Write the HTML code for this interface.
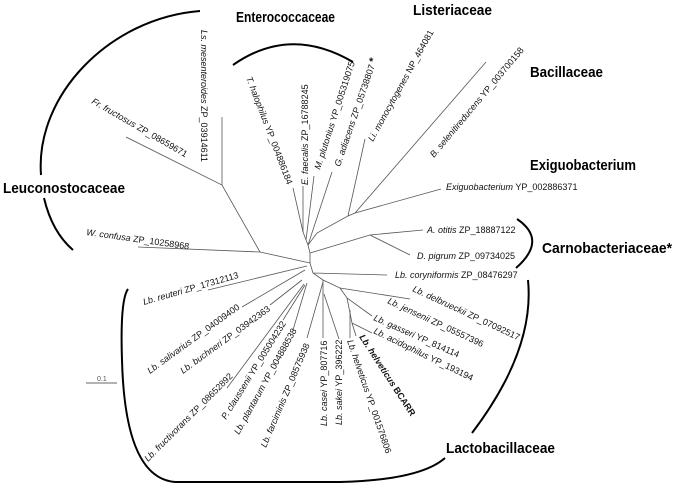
<!DOCTYPE html>
<html><head><meta charset="utf-8"><style>
body{margin:0;background:#fff}
svg{display:block}
.t{font-family:"Liberation Sans",sans-serif;font-size:9px;fill:#111}
.i{font-style:italic}
.g{font-family:"Liberation Sans",sans-serif;font-size:15px;font-weight:bold;fill:#000}
.l{stroke:#555;stroke-width:0.8;fill:none}
.a{stroke:#000;stroke-width:2;fill:none}
</style></head><body>
<svg width="674" height="487" viewBox="0 0 674 487" xmlns="http://www.w3.org/2000/svg">
<g class="l">
<polyline points="310,263 260,252 138,247"/>
<polyline points="260,252 222,185 126,137"/>
<line x1="222" y1="185" x2="222" y2="117"/>
<polyline points="310,263 310,253 308,245"/>
<polyline points="308,245 303,232 293,188"/>
<line x1="303" y1="232" x2="303" y2="186"/>
<line x1="306" y1="240" x2="314" y2="176"/>
<line x1="308" y1="245" x2="332" y2="172"/>
<polyline points="308,245 317,233 348,216 365,139"/>
<polyline points="348,216 355,213 486,62"/>
<line x1="355" y1="213" x2="441" y2="189"/>
<polyline points="310,253 370,235 423,230"/>
<line x1="370" y1="235" x2="410" y2="255"/>
<polyline points="310,263 313,273 387,275"/>
<polyline points="313,273 323,280 340,288 410,299"/>
<polyline points="340,288 347,298 372,316"/>
<polyline points="347,298 352,323 372,333"/>
<line x1="352" y1="323" x2="356" y2="336"/>
<line x1="350" y1="310" x2="350" y2="338"/>
<polyline points="323,280 323,293 323,338"/>
<line x1="324" y1="294" x2="339" y2="339"/>
<line x1="323" y1="282" x2="307" y2="338"/>
<line x1="307" y1="266" x2="208" y2="290"/>
<line x1="305" y1="270" x2="242" y2="307"/>
<line x1="302" y1="280" x2="270" y2="305"/>
<line x1="304" y1="284" x2="227" y2="388"/>
<line x1="305" y1="285" x2="283" y2="320"/>
<line x1="307" y1="283" x2="293" y2="330"/>
</g>
<line x1="86" y1="383" x2="117" y2="383" stroke="#666" stroke-width="1"/>
<text x="97" y="381" style="font-family:'Liberation Sans',sans-serif;font-size:7px;fill:#555">0.1</text>
<path class="a" d="M200,11 C110,18 35,95 41,175"/>
<path class="a" d="M44,198 Q52,232 73,250"/>
<path class="a" d="M233,65 Q290,25 353,62"/>
<path class="a" d="M517,219 Q548,240 516,268"/>
<path class="a" d="M528,280 Q535,350 472,433"/>
<path class="a" d="M128,289 Q120,300 122,360 Q125,478 175,482 L340,482 Q420,480 445,458"/>
<text class="g" x="236" y="22" textLength="99" lengthAdjust="spacingAndGlyphs">Enterococcaceae</text>
<text class="g" x="413" y="15" textLength="79" lengthAdjust="spacingAndGlyphs">Listeriaceae</text>
<text class="g" x="530" y="77" textLength="73" lengthAdjust="spacingAndGlyphs">Bacillaceae</text>
<text class="g" x="530" y="170" textLength="106" lengthAdjust="spacingAndGlyphs">Exiguobacterium</text>
<text class="g" x="542" y="253" textLength="130" lengthAdjust="spacingAndGlyphs">Carnobacteriaceae*</text>
<text class="g" x="3" y="193" textLength="122" lengthAdjust="spacingAndGlyphs">Leuconostocaceae</text>
<text class="g" x="446" y="453" textLength="109" lengthAdjust="spacingAndGlyphs">Lactobacillaceae</text>
<text class="t" transform="translate(201,30) rotate(90)"><tspan class="i">Ls. mesenteroides</tspan> ZP_03914611</text>
<text class="t" transform="translate(91,103) rotate(30)"><tspan class="i">Fr. fructosus</tspan> ZP_08659671</text>
<text class="t" transform="translate(246,78) rotate(69)"><tspan class="i">T. halophilus</tspan> YP_004886184</text>
<text class="t" transform="translate(308,185) rotate(-90)"><tspan class="i">E. faecalis</tspan> ZP_16788245</text>
<text class="t" transform="translate(320,170) rotate(-72)"><tspan class="i">M. plutonius</tspan> YP_005319075</text>
<text class="t" transform="translate(340,167) rotate(-71)"><tspan class="i">G. adiacens</tspan> ZP_05738807 <tspan font-weight="bold" font-size="11">*</tspan></text>
<text class="t" transform="translate(373,142) rotate(-61)"><tspan class="i">Li. monocytogenes</tspan> NP_464081</text>
<text class="t" transform="translate(434,158) rotate(-50)"><tspan class="i">B. selenitireducens</tspan> YP_003700158</text>
<text class="t" x="446" y="190"><tspan class="i">Exiguobacterium</tspan> YP_002886371</text>
<text class="t" x="427" y="233"><tspan class="i">A. otitis</tspan> ZP_18887122</text>
<text class="t" x="417" y="259"><tspan class="i">D. pigrum</tspan> ZP_09734025</text>
<text class="t" x="395" y="278"><tspan class="i">Lb. coryniformis</tspan> ZP_08476297</text>
<text class="t" transform="translate(412,291) rotate(25)"><tspan class="i">Lb. delbrueckii</tspan> ZP_07092517</text>
<text class="t" transform="translate(387,303) rotate(25)"><tspan class="i">Lb. jensenii</tspan> ZP_05557396</text>
<text class="t" transform="translate(373,320) rotate(24)"><tspan class="i">Lb. gasseri</tspan> YP_814114</text>
<text class="t" transform="translate(373,333) rotate(26)"><tspan class="i">Lb. acidophilus</tspan> YP_193194</text>
<text class="t" font-weight="bold" transform="translate(359,337) rotate(57)"><tspan class="i">Lb. helveticus</tspan>   BCARR</text>
<text class="t" transform="translate(347,341) rotate(71)"><tspan class="i">Lb. helveticus</tspan> YP_001576806</text>
<text class="t" transform="translate(327,426) rotate(-90)"><tspan class="i">Lb. casei</tspan> YP_807716</text>
<text class="t" transform="translate(342,425) rotate(-90)"><tspan class="i">Lb. sakei</tspan> YP_396222</text>
<text class="t" transform="translate(266,448) rotate(-67)"><tspan class="i">Lb. farciminis</tspan> ZP_08575938</text>
<text class="t" transform="translate(239,435) rotate(-61)"><tspan class="i">Lb. plantarum</tspan> YP_004888538</text>
<text class="t" transform="translate(226,420) rotate(-58)"><tspan class="i">P. claussenii</tspan> YP_005004232</text>
<text class="t" transform="translate(148,462) rotate(-45)"><tspan class="i">Lb. fructivorans</tspan> ZP_08652892</text>
<text class="t" transform="translate(183,374) rotate(-36)"><tspan class="i">Lb. buchneri</tspan> ZP_03942363</text>
<text class="t" transform="translate(150,374) rotate(-36)"><tspan class="i">Lb. salivarius</tspan> ZP_04009400</text>
<text class="t" transform="translate(144,305) rotate(-16)"><tspan class="i">Lb. reuteri</tspan> ZP_17312113</text>
<text class="t" transform="translate(86,235) rotate(8)"><tspan class="i">W. confusa</tspan> ZP_10258968</text>
</svg>
</body></html>
